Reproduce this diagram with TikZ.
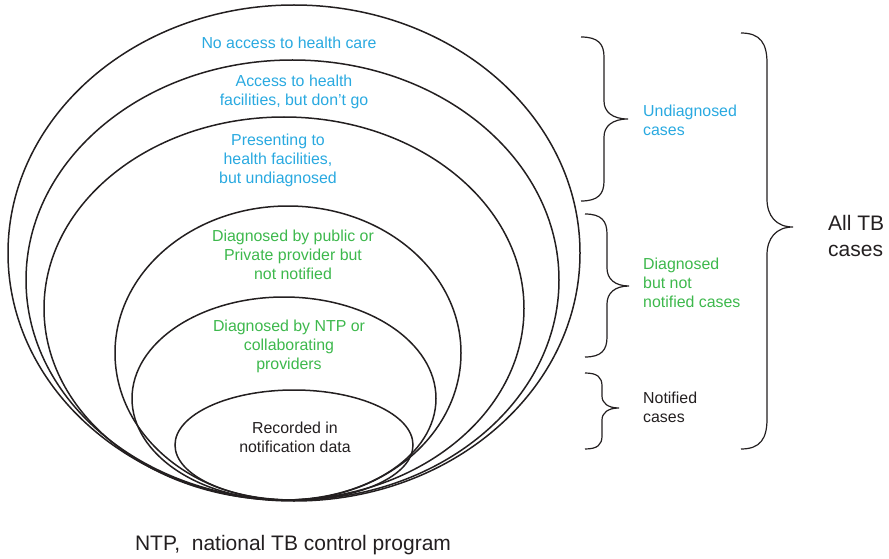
\documentclass[tikz,border=0pt]{standalone}
\usepackage{fontspec}
\setmainfont{Liberation Sans}
\definecolor{tbblue}{HTML}{29A9E0}
\definecolor{tbgreen}{HTML}{3DB84C}
\definecolor{tbdark}{HTML}{231F20}
\newcommand{\tbBrace}[8]{%
 \draw[bracestyle] (#1,#4) .. controls ({#1+0.75*(#2-#1)},#4) and (#2,{#4+0.35*#7}) .. (#2,{#4+#7})
   -- (#2,{#5-#8}) .. controls (#2,{#5-0.4*#8}) and ({#2+0.35*(#3-#2)},#5) .. (#3,#5)
   .. controls ({#2+0.35*(#3-#2)},#5) and (#2,{#5+0.4*#8}) .. (#2,{#5+#8})
   -- (#2,{#6-#7}) .. controls (#2,{#6-0.35*#7}) and ({#1+0.75*(#2-#1)},#6) .. (#1,#6);}
\begin{document}
\begin{tikzpicture}[x=1pt,y=-1pt,
  ring/.style={draw=tbdark,line width=1.5pt},
  bracestyle/.style={draw=tbdark,line width=1.2pt},
  intext/.style={inner sep=0pt,align=center,font=\fontsize{15.9}{19}\selectfont},
  sidetext/.style={inner sep=0pt,align=left,anchor=west,font=\fontsize{15.9}{19}\selectfont},
  bigtext/.style={inner sep=0pt,align=left,font=\fontsize{21}{26}\selectfont,text=tbdark}]
\useasboundingbox (0,0) rectangle (889,559);
% nested ellipses
\draw[ring] (294,253) ellipse [x radius=286, y radius=248];
\draw[ring] (292.5,280) ellipse [x radius=266.5, y radius=220];
\draw[ring] (284,308.5) ellipse [x radius=240, y radius=191.5];
\draw[ring] (288,353) ellipse [x radius=173, y radius=147];
\draw[ring] (284,398.5) ellipse [x radius=152, y radius=101.5];
\draw[ring] (294,445) ellipse [x radius=119, y radius=55];
% texts inside
\node[intext,text=tbblue] (t1) at (289,43) {No access to health care};
\node[intext,text=tbblue] (t2) at (294,91.5) {Access to health\\facilities, but don’t go};
\node[intext,text=tbblue] (t3) at (278,160) {Presenting to\\health facilities,\\but undiagnosed};
\node[intext,text=tbgreen] (t4) at (293,255) {Diagnosed by public or\\Private provider but\\not notified};
\node[intext,text=tbgreen] (t5) at (289,346) {Diagnosed by NTP or\\collaborating\\providers};
\node[intext,text=tbdark] (t6) at (295,437) {Recorded in\\notification data};
% braces
\tbBrace{581}{604}{628}{37}{119}{201}{20}{18}
\tbBrace{585}{607}{629}{214}{286}{357}{20}{18}
\tbBrace{585}{602}{619}{373}{408}{449}{13}{12}
\tbBrace{741}{767}{793}{33}{227}{449}{30}{28}
% side labels
\node[sidetext,text=tbblue] (s1) at (643,120) {Undiagnosed\\cases};
\node[sidetext,text=tbgreen] (s2) at (643,282.5) {Diagnosed\\but not\\notified cases};
\node[sidetext,text=tbdark] (s3) at (643,407) {Notified\\cases};
\node[bigtext,anchor=west] (s4) at (828,236) {All TB\\cases};
\node[bigtext,anchor=center] (foot) at (293,545) {NTP,\ \ national TB control program};
\end{tikzpicture}
\end{document}
